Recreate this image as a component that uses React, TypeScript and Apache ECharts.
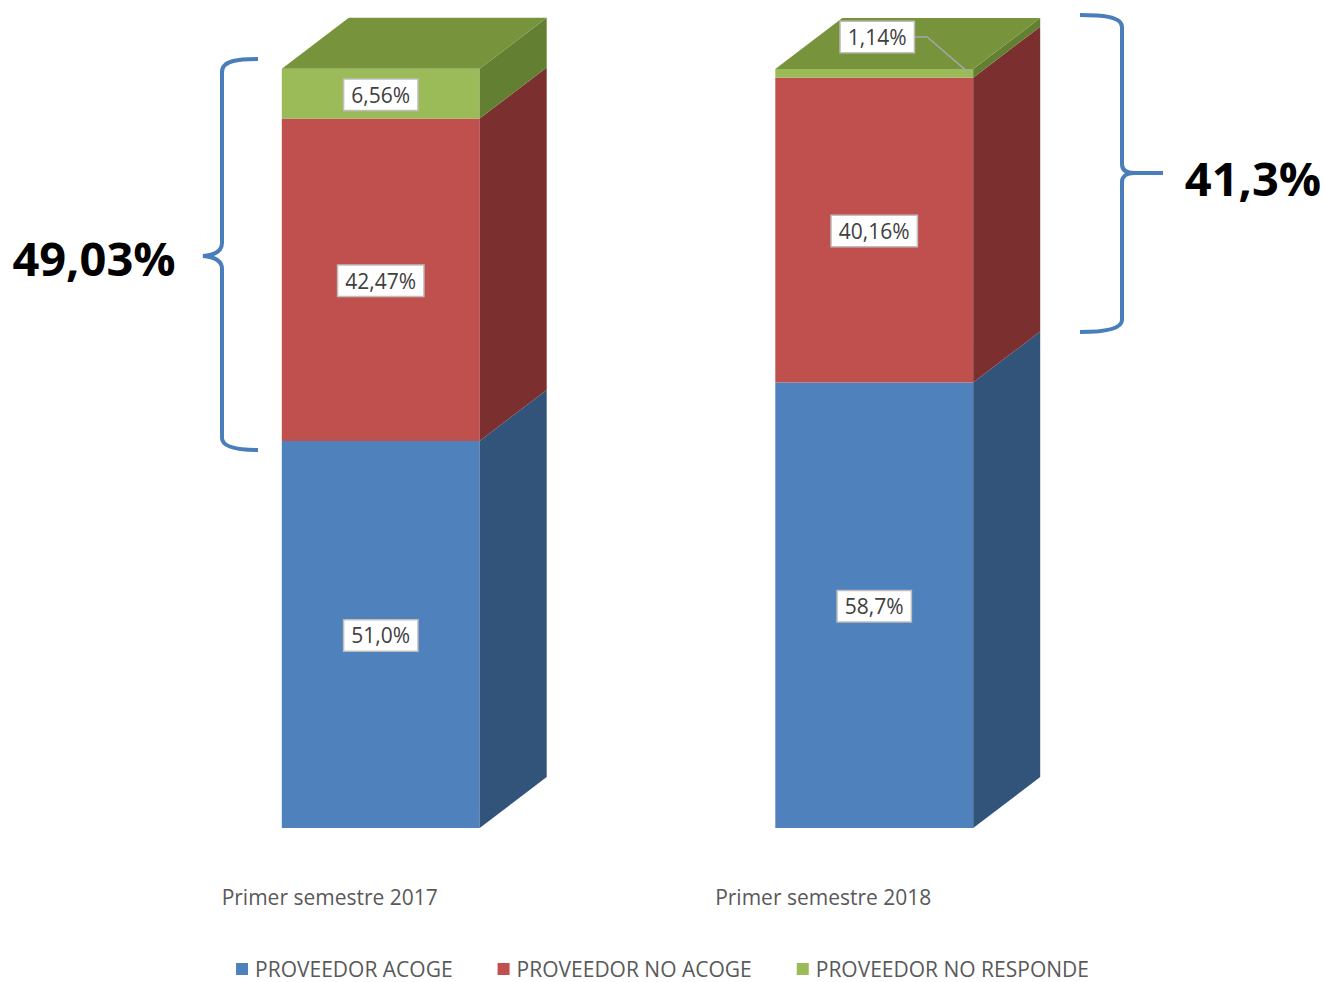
import React, { useEffect, useRef } from "react";
import * as echarts from "echarts";

// ---- data ----
const categories = ["Primer semestre 2017", "Primer semestre 2018"];
const seriesNames = ["PROVEEDOR ACOGE", "PROVEEDOR NO ACOGE", "PROVEEDOR NO RESPONDE"];
const acoge = [51.0, 58.7];
const noAcoge = [42.47, 40.16];
const noResponde = [6.56, 1.14];
const labelTexts = [
  ["51,0%", "58,7%"],
  ["42,47%", "40,16%"],
  ["6,56%", "1,14%"],
];
const braceTexts = ["49,03%", "41,3%"];

// ---- styles ----
const FONT = '"Open Sans", "Noto Sans", sans-serif';
const frontColors = ["#4F81BD", "#C0504D", "#9BBB59"];
const sideColors = ["#32547B", "#7B302F", "#637F32"];
const topColor = "#77933C";
const DEPTH_X = 67;
const DEPTH_Y = -51;
const BAR_RATIO = 0.401;

echarts.graphic.registerShape(
  "braceLeft",
  echarts.graphic.extendPath(
    "M258,59 C240,59 222,60 222,72 L222,243 C222,251 216,255 203,256 C216,257 222,261 222,269 L222,438 C222,448 240,450 258,450",
    {}
  )
);
echarts.graphic.registerShape(
  "braceRight",
  echarts.graphic.extendPath(
    "M1080,15 C1100,15 1122,16 1122,27 L1122,164 C1122,170 1126,173 1134,173 L1163,173 M1134,173 C1126,173 1122,177 1122,182 L1122,320 C1122,330 1100,332 1080,332",
    {}
  )
);

const allValues = [acoge, noAcoge, noResponde];

function makeSeries(idx: number) {
  const data = categories.map((_, c) => {
    let base = 0;
    for (let k = 0; k < idx; k++) base += allValues[k][c];
    return [c, allValues[idx][c], base];
  });
  const isTop = idx === allValues.length - 1;
  return {
    type: "custom",
    name: seriesNames[idx],
    itemStyle: { color: frontColors[idx] },
    encode: { x: 0, y: 1 },
    data,
    renderItem: (params: any, api: any) => {
      const cat = api.value(0);
      const v = api.value(1);
      const base = api.value(2);
      const pTop = api.coord([cat, base + v]);
      const pBot = api.coord([cat, base]);
      const w = api.size([1, 0])[0] * BAR_RATIO;
      const x0 = pTop[0] - w / 2;
      const x1 = x0 + w;
      const yT = pTop[1];
      const yB = pBot[1];
      const children: any[] = [
        {
          type: "rect",
          shape: { x: x0, y: yT, width: w, height: yB - yT },
          style: { fill: frontColors[idx] },
        },
        {
          type: "polygon",
          shape: {
            points: [
              [x1, yT],
              [x1 + DEPTH_X, yT + DEPTH_Y],
              [x1 + DEPTH_X, yB + DEPTH_Y],
              [x1, yB],
            ],
          },
          style: { fill: sideColors[idx] },
        },
      ];
      if (isTop) {
        children.push({
          type: "polygon",
          shape: {
            points: [
              [x0, yT],
              [x0 + DEPTH_X, yT + DEPTH_Y],
              [x1 + DEPTH_X, yT + DEPTH_Y],
              [x1, yT],
            ],
          },
          style: { fill: topColor },
        });
      }
      const small = yB - yT < 24;
      const cx = (x0 + x1) / 2;
      let lx = cx;
      let ly = (yT + yB) / 2 + 1;
      if (small) {
        lx = cx + 3;
        ly = yT - 32;
        const boxRight = lx + 38;
        children.push({
          type: "polyline",
          shape: {
            points: [
              [boxRight, ly],
              [boxRight + 12, ly],
              [x1 - 5, (yT + yB) / 2 - 1],
            ],
          },
          style: { stroke: "#A6A6A6", lineWidth: 1.5, fill: null },
        });
      }
      children.push({
        type: "text",
        x: lx,
        y: ly,
        style: {
          text: labelTexts[idx][params.dataIndex],
          fill: "#404040",
          fontSize: 21,
          fontFamily: FONT,
          align: "center",
          verticalAlign: "middle",
          backgroundColor: "#FFFFFF",
          borderColor: "#BFBFBF",
          borderWidth: 1.5,
          padding: [5, 7, 4, 7],
        },
      });
      return { type: "group", children };
    },
  };
}

export default function App() {
  const ref = useRef<HTMLDivElement>(null);
  useEffect(() => {
    if (!ref.current) return;
    const chart = echarts.init(ref.current, null, { renderer: "svg" });
    chart.setOption({
      animation: false,
      backgroundColor: "#FFFFFF",
      grid: { left: 134, right: 204, top: 69, bottom: 154, containLabel: false },
      xAxis: {
        type: "category",
        data: categories,
        axisLine: { show: false },
        axisTick: { show: false },
        splitLine: { show: false },
        axisLabel: {
          color: "#595959",
          fontSize: 21,
          fontFamily: FONT,
          margin: 58,
          padding: [0, 102, 0, 0],
        },
      },
      yAxis: { type: "value", min: 0, max: 100, show: false },
      legend: {
        data: seriesNames,
        left: "center",
        top: 957,
        padding: 0,
        icon: "rect",
        itemWidth: 12,
        itemHeight: 12,
        itemGap: 45,
        textStyle: {
          color: "#595959",
          fontSize: 21,
          lineHeight: 24,
          fontFamily: FONT,
          padding: [0, 0, 0, 2],
        },
      },
      graphic: [
        {
          type: "braceLeft",
          x: 0,
          y: 0,
          style: { stroke: "#4A7EBB", lineWidth: 4, fill: "none" },
        },
        {
          type: "braceRight",
          x: 0,
          y: 0,
          style: { stroke: "#4A7EBB", lineWidth: 4, fill: "none" },
        },
        {
          type: "text",
          x: 94,
          y: 258,
          style: {
            text: braceTexts[0],
            font: 'bold 47px "Open Sans", sans-serif',
            fill: "#000000",
            align: "center",
            verticalAlign: "middle",
          },
        },
        {
          type: "text",
          x: 1253,
          y: 178,
          style: {
            text: braceTexts[1],
            font: 'bold 47px "Open Sans", sans-serif',
            fill: "#000000",
            align: "center",
            verticalAlign: "middle",
          },
        },
      ],
      series: [0, 1, 2].map(makeSeries),
    });
    return () => chart.dispose();
  }, []);
  return (
    <div
      ref={ref}
      style={{ position: "fixed", left: 0, top: 0, width: 1325, height: 982 }}
    />
  );
}
